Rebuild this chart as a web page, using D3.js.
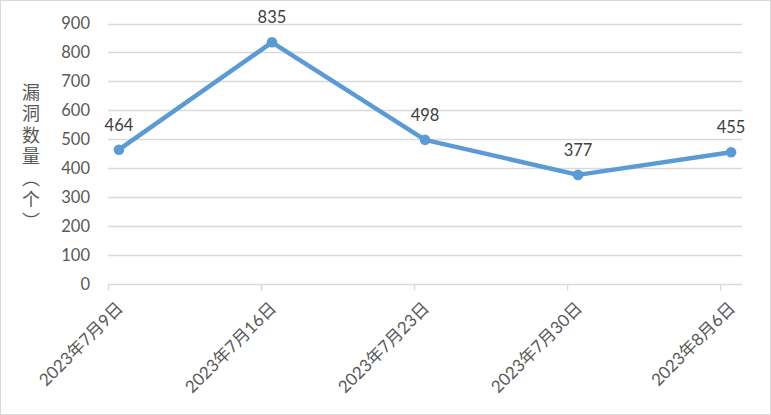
<!DOCTYPE html>
<html><head><meta charset="utf-8">
<script src="https://cdn.jsdelivr.net/npm/d3@7"></script>
<style>
html,body{margin:0;padding:0;background:#fff;}
svg text{font-family:"Lato","Noto Sans CJK SC",sans-serif;fill:#595959;}
</style></head>
<body>
<script>
const categories = ["2023年7月9日","2023年7月16日","2023年7月23日","2023年7月30日","2023年8月6日"];
const dayOffsets = [0, 7, 14, 21, 28];
const values = [464, 835, 498, 377, 455];
const yTicks = [0,100,200,300,400,500,600,700,800,900];
const yTitle = "漏洞数量（个）";

(function(){
const W = 771, H = 415;
const svg = d3.select("body").append("svg").attr("width", W).attr("height", H);
svg.append("rect").attr("x",0.5).attr("y",0.5).attr("width",W-1).attr("height",H-1)
  .attr("fill","#fff").attr("stroke","#d9d9d9");

const pl = 108, pr = 742, pt = 23.5, pb = 284;
const x = d3.scaleLinear().domain([0, 29]).range([pl, pr]);
const y = d3.scaleLinear().domain([0, 900]).range([pb, pt]);

svg.append("g").selectAll("line").data(yTicks.filter(d=>d>0)).join("line")
  .attr("x1", pl).attr("x2", pr)
  .attr("y1", d=>Math.round(y(d))+0.5).attr("y2", d=>Math.round(y(d))+0.5)
  .attr("stroke","#d9d9d9").attr("stroke-width",1.3);

const yAxis = d3.axisLeft(y).tickValues(yTicks).tickSize(0).tickPadding(0);
const yg = svg.append("g").attr("transform",`translate(${pl-18},0)`).call(yAxis);
yg.select(".domain").remove();
yg.selectAll("text").attr("font-size","16.5px").attr("fill","#595959")
  .style("font-family",'"Lato","Noto Sans CJK SC",sans-serif');

const xAxis = d3.axisBottom(x).tickValues(dayOffsets).tickSize(6).tickFormat("");
const xg = svg.append("g").attr("transform",`translate(0,${Math.round(pb)+0.5})`).call(xAxis);
xg.select(".domain").attr("stroke","#d9d9d9").attr("stroke-width",1.3).attr("d",`M${pl},0H${pr}`);
xg.selectAll(".tick line").attr("stroke","#d9d9d9").attr("stroke-width",1.3);

svg.append("g").selectAll("text").data(categories).join("text")
  .attr("transform",(d,i)=>`translate(${x(dayOffsets[i]+0.5)+1},${305}) rotate(-45)`)
  .attr("text-anchor","end").attr("dy","0.35em")
  .attr("font-size","17px").text(d=>d);

svg.append("text").attr("x",31).attr("y",83)
  .attr("font-size","18px").style("writing-mode","vertical-rl")
  .attr("letter-spacing","3.5px").style("font-family",'"Noto Sans CJK SC",sans-serif')
  .text(yTitle);

const line = d3.line().x((d,i)=>x(dayOffsets[i]+0.5)).y(d=>y(d));
svg.append("path").datum(values).attr("d",line).attr("fill","none")
  .attr("stroke","#5b9bd5").attr("stroke-width",4.5).attr("stroke-linejoin","round");
svg.append("g").selectAll("circle").data(values).join("circle")
  .attr("cx",(d,i)=>x(dayOffsets[i]+0.5)).attr("cy",d=>y(d)).attr("r",5.3)
  .attr("fill","#5b9bd5");

svg.append("g").selectAll("text").data(values).join("text")
  .attr("x",(d,i)=>x(dayOffsets[i]+0.5)).attr("y",d=>y(d)-19)
  .attr("text-anchor","middle").attr("font-size","16.5px").style("fill","#404040")
  .text(d=>d);
})();
</script>
</body></html>
